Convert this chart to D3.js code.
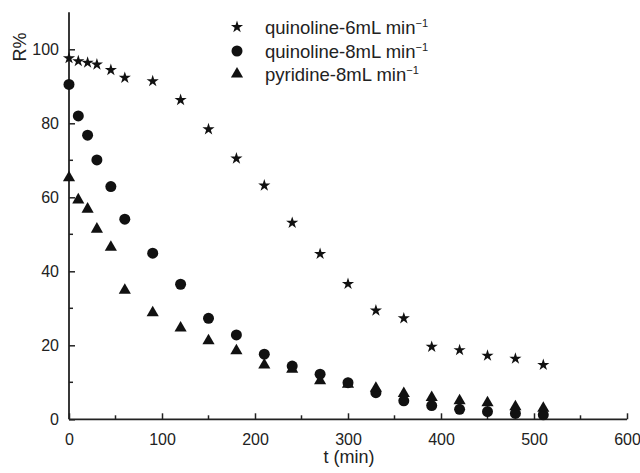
<!DOCTYPE html>
<html>
<head>
<meta charset="utf-8">
<script src="https://cdn.jsdelivr.net/npm/d3@7"></script>
<style>
  html, body { margin: 0; padding: 0; background: #fff; }
  svg { display: block; font-family: "Liberation Sans", Arial, sans-serif; }
</style>
</head>
<body>
<svg id="chart" width="640" height="473"></svg>
<script>
const times = [0, 10, 20, 30, 45, 60, 90, 120, 150, 180, 210, 240, 270, 300, 330, 360, 390, 420, 450, 480, 510];
const quinoline6 = [97.6, 96.8, 96.4, 95.9, 94.4, 92.3, 91.4, 86.3, 78.4, 70.5, 63.2, 53.1, 44.7, 36.6, 29.4, 27.3, 19.6, 18.7, 17.2, 16.4, 14.7];
const quinoline8 = [90.5, 82.0, 76.8, 70.1, 62.9, 54.1, 44.9, 36.5, 27.3, 22.8, 17.6, 14.4, 12.2, 9.9, 7.2, 5.0, 3.7, 2.7, 2.1, 1.6, 1.2];
const pyridine8 = [65.3, 59.3, 56.8, 51.4, 46.5, 34.9, 28.8, 24.7, 21.2, 18.5, 14.7, 13.5, 10.4, 9.5, 8.4, 7.0, 5.9, 5.0, 4.5, 3.4, 3.0];
const seriesNames = ["quinoline-6mL min", "quinoline-8mL min", "pyridine-8mL min"];
const xTicks = [0, 100, 200, 300, 400, 500, 600];
const yTicks = [0, 20, 40, 60, 80, 100];
const xLabel = "t (min)";
const yLabel = "R%";

const svg = d3.select("#chart");
const x = d3.scaleLinear().domain([0, 600]).range([69, 627]);
const y = d3.scaleLinear().domain([0, 110]).range([419.3, 12.3]);

const axisColor = "#222";
const g = svg.append("g");
g.append("line").attr("x1", x(0)).attr("x2", x(600)).attr("y1", y(0)).attr("y2", y(0))
  .attr("stroke", axisColor).attr("stroke-width", 1.8);
g.append("line").attr("x1", x(0)).attr("x2", x(0)).attr("y1", y(0)).attr("y2", y(110))
  .attr("stroke", axisColor).attr("stroke-width", 1.8);

const xMinor = d3.range(50, 600, 100);
const xAxis = d3.axisBottom(x).tickValues(xTicks).tickSize(-6).tickPadding(14).tickFormat(d3.format("d"));
const xg = svg.append("g").attr("transform", `translate(0,${y(0)})`).call(xAxis);
xg.select(".domain").remove();
xg.selectAll(".tick line").attr("stroke", axisColor).attr("stroke-width", 1.5);
xg.selectAll(".tick text").attr("font-size", 16).attr("fill", "#222").attr("font-family", "Liberation Sans, Arial, sans-serif");
xg.selectAll(".minor").data(xMinor).enter().append("line")
  .attr("x1", d => x(d)).attr("x2", d => x(d)).attr("y1", 0).attr("y2", -4)
  .attr("stroke", axisColor).attr("stroke-width", 1.5);

const yMinor = d3.range(10, 110, 20);
const yAxis = d3.axisLeft(y).tickValues(yTicks).tickSize(-6).tickPadding(10).tickFormat(d3.format("d"));
const yg = svg.append("g").attr("transform", `translate(${x(0)},0)`).call(yAxis);
yg.select(".domain").remove();
yg.selectAll(".tick line").attr("stroke", axisColor).attr("stroke-width", 1.5);
yg.selectAll(".tick text").attr("font-size", 16).attr("fill", "#222").attr("font-family", "Liberation Sans, Arial, sans-serif");
yg.selectAll(".minor").data(yMinor).enter().append("line")
  .attr("x1", 0).attr("x2", 4).attr("y1", d => y(d)).attr("y2", d => y(d))
  .attr("stroke", axisColor).attr("stroke-width", 1.5);

svg.append("text").attr("x", 349).attr("y", 463).attr("text-anchor", "middle")
  .attr("font-size", 18).attr("fill", "#222").text(xLabel);
svg.append("text").attr("transform", "translate(26,47) rotate(-90)").attr("text-anchor", "middle")
  .attr("font-size", 18).attr("fill", "#222").text(yLabel);

const symbols = [
  d3.symbol().type(d3.symbolStar).size(46),
  d3.symbol().type(d3.symbolCircle).size(95),
  d3.symbol().type(d3.symbolTriangle).size(64)
];
const allSeries = [quinoline6, quinoline8, pyridine8];
allSeries.forEach((vals, i) => {
  svg.append("g").selectAll("path").data(times.map((t, j) => [t, vals[j]])).enter()
    .append("path")
    .attr("transform", d => `translate(${x(d[0])},${y(d[1])})`)
    .attr("d", symbols[i]())
    .attr("fill", "#111");
});

const legY = [27, 51, 74];
seriesNames.forEach((name, i) => {
  svg.append("path").attr("transform", `translate(237,${legY[i]})`)
    .attr("d", symbols[i]()).attr("fill", "#111");
  const t = svg.append("text").attr("x", 265).attr("y", legY[i] + 7)
    .attr("font-size", 18.5).attr("fill", "#222");
  t.append("tspan").text(name);
  t.append("tspan").attr("font-size", 11).attr("dy", -7).text("\u22121");
});
</script>
</body>
</html>
